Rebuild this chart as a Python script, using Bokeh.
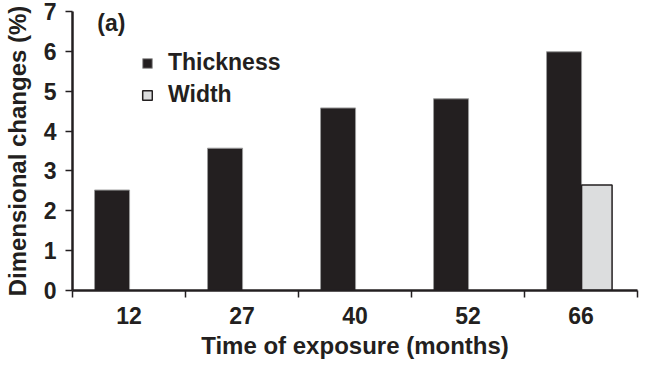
from bokeh.plotting import figure
from bokeh.models import Range1d, FixedTicker, Legend, LegendItem, Label, ColumnDataSource
from bokeh.transform import dodge
from bokeh.embed import file_html
from bokeh.resources import INLINE

# ---- data ----
months = ["12", "27", "40", "52", "66"]
thickness = [2.52, 3.57, 4.58, 4.81, 5.99]
width_change = [float("nan"), float("nan"), float("nan"), float("nan"), 2.65]
y_ticks = [0, 1, 2, 3, 4, 5, 6, 7]

INK = "#231f20"
FONT = "Liberation Sans"

x_pos = [i + 0.5 for i in range(len(months))]
boundaries = [i for i in range(len(months) + 1)]

source = ColumnDataSource(dict(x=x_pos, thickness=thickness, width=width_change))

p = figure(width=639, height=361,
           x_range=Range1d(0, len(months)), y_range=Range1d(0, 7),
           output_backend="svg", toolbar_location=None,
           min_border_left=71, min_border_right=2,
           min_border_top=11, min_border_bottom=69)

r1 = p.vbar(x=dodge("x", -0.15), top="thickness", width=0.31, source=source,
            fill_color=INK, line_color="#9a9a9a", line_width=1)
r2 = p.vbar(x=dodge("x", 0.14), top="width", width=0.27, source=source,
            fill_color="#dcddde", line_color=INK, line_width=1.5)

p.xgrid.visible = False
p.ygrid.visible = False
p.outline_line_color = None
p.background_fill_color = "white"
p.border_fill_color = "white"

for ax in (p.xaxis[0], p.yaxis[0]):
    ax.axis_line_width = 2.5
    ax.axis_line_color = INK
    ax.major_label_text_font = FONT
    ax.major_label_text_font_style = "bold"
    ax.major_label_text_font_size = "23px"
    ax.major_label_text_color = INK
    ax.axis_label_text_font = FONT
    ax.axis_label_text_font_style = "bold"
    ax.axis_label_text_font_size = "24px"
    ax.axis_label_text_color = INK

xa = p.xaxis[0]
xa.ticker = FixedTicker(ticks=x_pos, minor_ticks=boundaries)
xa.major_label_overrides = {x: m for x, m in zip(x_pos, months)}
xa.major_tick_line_color = None
xa.major_tick_out = 0
xa.major_tick_in = 0
xa.minor_tick_out = 7
xa.minor_tick_in = 0
xa.minor_tick_line_width = 1.5
xa.minor_tick_line_color = INK
xa.major_label_standoff = 9
xa.axis_label = "Time of exposure (months)"
xa.axis_label_standoff = 5

ya = p.yaxis[0]
ya.ticker = FixedTicker(ticks=y_ticks)
ya.major_tick_out = 7
ya.major_tick_in = 0
ya.major_tick_line_width = 1.5
ya.major_tick_line_color = INK
ya.minor_tick_line_color = None
ya.major_label_standoff = 9
ya.axis_label = "Dimensional changes (%)"
ya.axis_label_standoff = 10

legend = Legend(items=[LegendItem(label="Thickness", renderers=[r1]),
                       LegendItem(label="Width", renderers=[r2])],
                location=(69, 182), padding=0, margin=0, spacing=5,
                glyph_width=12, glyph_height=12, label_standoff=15,
                border_line_color=None, background_fill_alpha=0,
                label_text_font=FONT, label_text_font_style="bold",
                label_text_font_size="23px", label_text_color=INK)
p.add_layout(legend)

p.add_layout(Label(x=0.22, y=6.72, text="(a)", text_baseline="middle",
                   text_font=FONT, text_font_style="bold", text_font_size="23px",
                   text_color=INK))

open("out.html", "w").write(file_html(p, INLINE))
